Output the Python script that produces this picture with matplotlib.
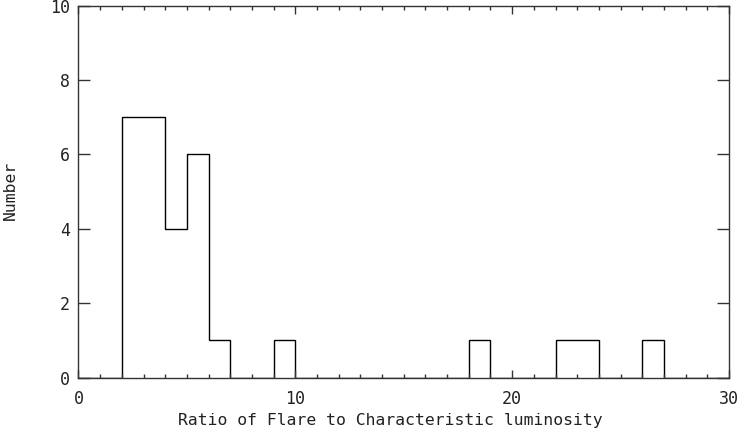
"""
Histogram of flare-to-characteristic luminosity ratios.
"""
import matplotlib
matplotlib.use('Agg')
import matplotlib.pyplot as plt
from matplotlib.ticker import MultipleLocator

# bin edges (width 1) and counts per bin
bin_edges = list(range(0, 31))
counts = [0, 0, 7, 7, 4, 6, 1, 0, 0, 1,
          0, 0, 0, 0, 0, 0, 0, 0, 1, 0,
          0, 0, 1, 1, 0, 0, 1, 0, 0, 0]

x_ticks = [0, 10, 20, 30]
y_ticks = [0, 2, 4, 6, 8, 10]

# wide, evenly spaced lettering
plt.rcParams['font.family'] = 'DejaVu Sans Mono'

fig = plt.figure(figsize=(7.44, 4.34), dpi=100)
ax = fig.add_axes([0.1055, 0.1297, 0.8743, 0.8576])

ax.stairs(counts, bin_edges, baseline=0, fill=False, color='black', linewidth=1.0)

ax.set_xlim(0, 30)
ax.set_ylim(0, 10)
ax.set_xticks(x_ticks)
ax.set_yticks(y_ticks)
ax.xaxis.set_minor_locator(MultipleLocator(1))

for spine in ax.spines.values():
    spine.set_linewidth(1.0)
    spine.set_color('#333333')

ax.tick_params(axis='both', which='both', direction='in', top=True, right=True,
               color='#333333', width=1.0, labelsize=12, labelcolor='#222222')
ax.tick_params(axis='x', which='major', length=6, pad=9)
ax.tick_params(axis='x', which='minor', length=3)
ax.tick_params(axis='y', which='major', length=8.5, pad=6)

ax.set_xlabel('Ratio of Flare to Characteristic luminosity', fontsize=11.8, color='#222222')
ax.set_ylabel('Number', fontsize=11.8, color='#222222')
ax.xaxis.set_label_coords(0.48, -0.095)
ax.yaxis.set_label_coords(-0.093, 0.504)

fig.savefig('out.png', dpi=100)
